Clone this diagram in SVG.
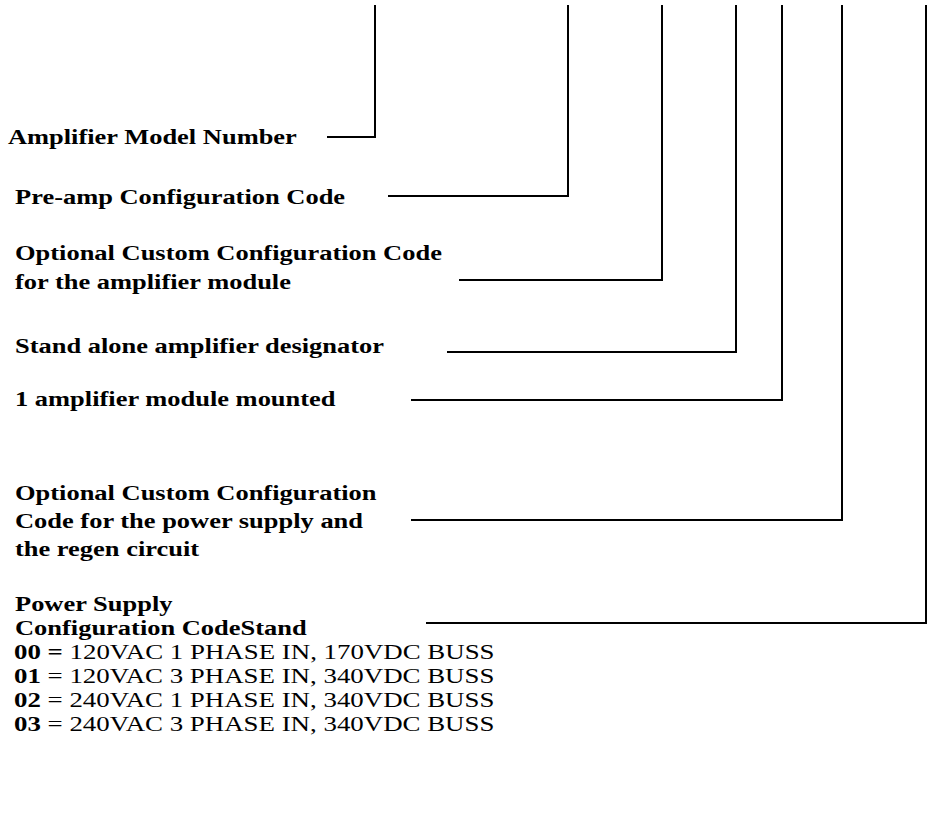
<svg xmlns="http://www.w3.org/2000/svg" width="929" height="814" viewBox="0 0 929 814">
<style>
text{font-family:"Liberation Serif","Times New Roman",serif;font-size:21px;fill:#000}
.b{font-weight:bold}
.c{fill:none;stroke:#000;stroke-width:2}
</style>
<rect width="929" height="814" fill="#fff"/>
<g id="connectors">
<polyline class="c" points="375,5 375,137 327,137"/>
<polyline class="c" points="568,5 568,196 388,196"/>
<polyline class="c" points="662,5 662,280 459,280"/>
<polyline class="c" points="736,5 736,352 447,352"/>
<polyline class="c" points="782,5 782,400 411,400"/>
<polyline class="c" points="842,5 842,520 411,520"/>
<polyline class="c" points="926,5 926,623 426,623"/>
</g>
<g id="n1" transform="scale(1.26 1)"><text class="b" x="6.3" y="144">Amplifier Model Number</text></g>
<g id="n2" transform="scale(1.26 1)"><text class="b" x="11.9" y="204">Pre-amp Configuration Code</text></g>
<g id="n3" transform="scale(1.26 1)"><text class="b" x="11.9" y="260">Optional Custom Configuration Code</text><text class="b" x="11.9" y="289">for the amplifier module</text></g>
<g id="n4" transform="scale(1.26 1)"><text class="b" x="11.9" y="353">Stand alone amplifier designator</text></g>
<g id="n5" transform="scale(1.26 1)"><text class="b" x="11.9" y="406">1 amplifier module mounted</text></g>
<g id="n6" transform="scale(1.26 1)"><text class="b" x="11.9" y="500">Optional Custom Configuration</text><text class="b" x="11.9" y="528">Code for the power supply and</text><text class="b" x="11.9" y="556">the regen circuit</text></g>
<g id="n7"><g transform="scale(1.26 1)"><text class="b" x="11.9" y="611">Power Supply</text><text class="b" x="11.9" y="635">Configuration CodeStand</text></g>
<g transform="scale(1.28 1)">
<text x="10.9" y="659"><tspan class="b">00 =</tspan> 120VAC 1 PHASE IN, 170VDC BUSS</text>
<text x="10.9" y="683"><tspan class="b">01</tspan> = 120VAC 3 PHASE IN, 340VDC BUSS</text>
<text x="10.9" y="707"><tspan class="b">02</tspan> = 240VAC 1 PHASE IN, 340VDC BUSS</text>
<text x="10.9" y="731"><tspan class="b">03</tspan> = 240VAC 3 PHASE IN, 340VDC BUSS</text></g></g>
</svg>
